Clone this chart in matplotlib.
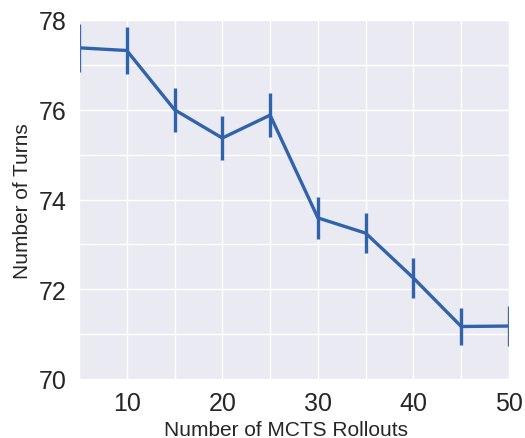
import matplotlib
matplotlib.use("Agg")
import matplotlib.pyplot as plt
import seaborn as sns
from matplotlib.ticker import MultipleLocator

sns.set_style("darkgrid")
plt.rcParams['font.family'] = ['Liberation Sans', 'DejaVu Sans']

# data
rollouts = [5, 10, 15, 20, 25, 30, 35, 40, 45, 50]
turns = [77.38, 77.32, 76.0, 75.37, 75.88, 73.59, 73.25, 72.25, 71.17, 71.18]
errors = [0.53, 0.52, 0.49, 0.50, 0.49, 0.46, 0.45, 0.45, 0.42, 0.44]

fig = plt.figure(figsize=(5.25, 4.39), dpi=100)
ax = fig.add_axes([79 / 525, 1 - 380 / 439, 430 / 525, 359 / 439])

ax.errorbar(rollouts, turns, yerr=errors, color='#3162ac', linewidth=2.4,
            elinewidth=2.4, capsize=0)

ax.set_xlim(5, 50)
ax.set_ylim(70, 78)
ax.xaxis.set_major_locator(MultipleLocator(10))
ax.xaxis.set_minor_locator(MultipleLocator(5))
ax.yaxis.set_major_locator(MultipleLocator(2))
ax.yaxis.set_minor_locator(MultipleLocator(1))
ax.grid(which='both', color='white', linewidth=1.0)
ax.tick_params(which='both', length=0)
ax.tick_params(axis='both', labelsize=18, pad=9)

# pin both label baselines where the reference has them
ax.set_xlabel("Number of MCTS Rollouts", fontsize=15, va='baseline')
ax.xaxis.set_label_coords(0.481, -0.156)
ax.set_ylabel("Number of Turns", fontsize=15, va='baseline')
ax.yaxis.set_label_coords(-0.119, 0.497)

fig.savefig("out.png", dpi=100)
